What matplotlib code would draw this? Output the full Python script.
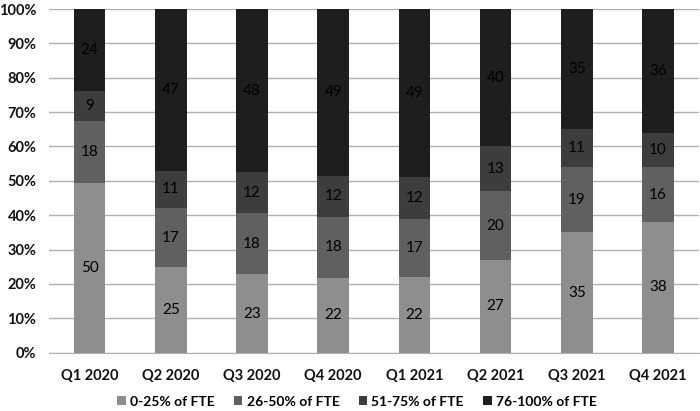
import matplotlib
matplotlib.use("Agg")
import matplotlib.pyplot as plt
import numpy as np
from matplotlib.ticker import FuncFormatter

categories = ["Q1 2020", "Q2 2020", "Q3 2020", "Q4 2020", "Q1 2021", "Q2 2021", "Q3 2021", "Q4 2021"]
series_names = ["0-25% of FTE", "26-50% of FTE", "51-75% of FTE", "76-100% of FTE"]
s_0_25 = [50, 25, 23, 22, 22, 27, 35, 38]
s_26_50 = [18, 17, 18, 18, 17, 20, 19, 16]
s_51_75 = [9, 11, 12, 12, 12, 13, 11, 10]
s_76_100 = [24, 47, 48, 49, 49, 40, 35, 36]
colors = ["#8e8e8e", "#606060", "#3d3d3d", "#1e1e1e"]

plt.rcParams['font.family'] = ['Lato', 'DejaVu Sans']

data = np.array([s_0_25, s_26_50, s_51_75, s_76_100], dtype=float)
totals = data.sum(axis=0)
pct = data / totals * 100

fig = plt.figure(figsize=(7.0, 4.11), dpi=100)
ax = fig.add_axes([0.07, 0.142, 0.928, 0.836])

x = np.arange(len(categories))
bottom = np.zeros(len(categories))
for i, name in enumerate(series_names):
    ax.bar(x, pct[i], 0.39, bottom=bottom, color=colors[i], label=name, zorder=3)
    for j in range(len(categories)):
        ax.text(x[j], bottom[j] + pct[i][j] / 2, str(int(data[i][j])), ha='center', va='center',
                fontsize=11, color='black', zorder=4)
    bottom += pct[i]

ax.set_xlim(-0.5, len(categories) - 0.5)
ax.set_ylim(0, 100)
ax.set_yticks(np.arange(0, 101, 10))
ax.yaxis.set_major_formatter(FuncFormatter(lambda v, p: f"{int(v)}%"))
ax.set_xticks(x)
ax.set_xticklabels(categories)
for lbl in ax.get_xticklabels() + ax.get_yticklabels():
    lbl.set_fontsize(10.5)
    lbl.set_fontweight('bold')
    lbl.set_color('#111111')
ax.tick_params(axis='both', length=0)
ax.tick_params(axis='x', pad=12)
ax.tick_params(axis='y', pad=9)
ax.grid(axis='y', color='#b0b0b0', linewidth=1, zorder=0)
for s in ['top', 'right', 'left']:
    ax.spines[s].set_visible(False)
ax.spines['bottom'].set_color('#b0b0b0')

leg = fig.legend(loc='lower center', bbox_to_anchor=(0.51, -0.022), ncol=4, frameon=False,
                 fontsize=10, handlelength=0.6, handleheight=0.6, handletextpad=0.3, columnspacing=1.4)
for t in leg.get_texts():
    t.set_fontweight('bold')

fig.savefig("out.png", dpi=100)
